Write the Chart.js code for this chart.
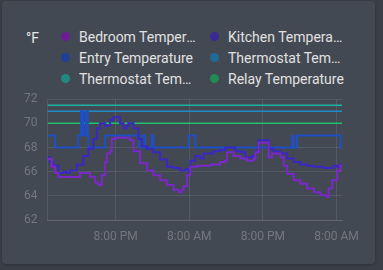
<!DOCTYPE html>
<html>
<head>
<meta charset="utf-8">
<script src="https://cdn.jsdelivr.net/npm/chart.js@4.4.1/dist/chart.umd.min.js"></script>
<style>
    html, body { margin: 0; padding: 0; }
    body {
        width: 383px; height: 270px; overflow: hidden;
        background: #3b4048;
        font-family: Roboto, "Noto Sans", sans-serif;
    }
    .card {
        position: absolute; left: 2px; top: 1px; width: 373px; height: 263px;
        background: #434953; border-radius: 4px;
        box-shadow: 0 1px 3px rgba(0,0,0,0.25);
    }
    .unit {
        position: absolute; left: 26px; top: 30px;
        color: #e8e8e8; font-size: 14px;
    }
    .legend {
        position: absolute; left: 61px; top: 26px; width: 300px;
        display: grid; grid-template-columns: 149px 149px; row-gap: 0;
    }
    .legend-item {
        display: flex; align-items: center; height: 21px;
        color: #e1e1e1; font-size: 14px;
    }
    .legend-item .dot {
        width: 9px; height: 9px; border-radius: 50%; margin-right: 9px; flex: none;
    }
    .legend-item .label {
        max-width: 118px; overflow: hidden; text-overflow: ellipsis; white-space: nowrap;
    }
    #chartWrap { position: absolute; left: 0; top: 82px; }
</style>
</head>
<body>
<div class="card"></div>
<div class="unit">°F</div>
<div class="legend" id="legend"></div>
<div id="chartWrap"><canvas id="historyChart" width="383" height="168"></canvas></div>

<script>
    const seriesNames = ['Bedroom Temperature', 'Kitchen Temperature', 'Entry Temperature',
        'Thermostat Temperature', 'Thermostat Temperature', 'Relay Temperature'];

    // hours since start of the 48h window
    const bedroomHours = [0, 0.69, 1.22, 1.76, 3.67, 5.3, 6.12, 6.94, 7.76, 8.29, 8.57, 8.85, 9.39, 9.67,
        10.2, 10.48, 11.02, 13.19, 13.47, 14.01, 15.1, 16.2, 17.27, 18.37, 19.46, 20.54, 21.36, 21.9,
        22.17, 22.73, 23.27, 24.36, 25.44, 26.53, 28.16, 28.98, 29.26, 30.33, 31.43, 32.52, 33.6,
        33.88, 34.42, 35.79, 36.05, 36.6, 37.96, 38.5, 39.05, 40.13, 41.22, 42.3, 43.4, 44.49, 45.58,
        45.84, 46.4, 47.22, 47.76, 48];
    const bedroomTemps = [67.05, 66.4, 65.9, 65.55, 65.55, 65.9, 65.9, 65.55, 65.1, 64.9, 64.9, 65.7, 66.8, 67.5,
        67.7, 68.7, 68.8, 68.8, 68.6, 67.7, 66.7, 66.1, 65.7, 65.3, 64.9, 64.5, 64.3, 64.5,
        64.8, 65.7, 66.4, 66.5, 66.5, 66.6, 66.8, 66.9, 67.6, 67.3, 67.1, 66.9, 67.05,
        67.6, 68.4, 68.4, 67.2, 67.5, 67.2, 66.5, 65.8, 65.3, 65.0, 64.6, 64.3, 64.05, 63.9,
        64.6, 65.3, 66.1, 66.5, 66.5];

    const kitchenHours = [0, 0.41, 0.95, 1.22, 1.76, 2.58, 3.13, 3.67, 4.77, 5.84, 6.66, 7.48, 8.03, 8.57,
        9.39, 10.2, 10.74, 11.51, 11.84, 12.38, 12.93, 13.19, 13.63, 14.01, 14.82, 15.38, 16.2, 17.27,
        18.37, 19.46, 20.54, 21.63, 22.45, 22.99, 23.27, 24.08, 24.9, 25.44, 26.53, 27.07, 28.16,
        28.98, 29.8, 30.61, 31.43, 32.24, 33.34, 33.88, 34.42, 35.79, 36.05, 36.87, 37.96, 39.05,
        40.13, 41.22, 42.3, 43.4, 45.03, 46.12, 46.66, 47.22, 47.76, 48];
    const kitchenTemps = [67.2, 66.8, 66.4, 66.5, 65.9, 66.0, 65.9, 66.1, 66.6, 67.3, 67.9, 68.7, 69.6, 70.0,
        69.8, 70.3, 70.5, 70.5, 70.0, 69.6, 69.8, 70.0, 70.0, 69.6, 68.7, 68.1, 67.9, 67.6,
        67.0, 66.4, 66.3, 66.1, 66.2, 66.0, 66.9, 67.3, 67.1, 67.5, 67.5, 67.7, 67.8,
        68.0, 68.0, 67.7, 67.6, 67.2, 67.3, 67.7, 68.6, 68.6, 67.9, 67.7, 67.5, 67.1,
        66.8, 66.6, 66.5, 66.4, 66.3, 66.3, 66.5, 66.4, 66.6, 66.6];

    const entryHours = [0, 1.22, 4.98, 5.47, 5.8, 6.24, 6.56, 6.69, 9.39, 14.94, 15.45, 15.9, 17.01,
        17.27, 22.99, 24.08, 39.87, 40.13, 40.69, 47.76, 48];
    const entryTemps = [69, 68, 69, 71, 69, 71, 69, 68, 69, 68, 69, 68, 69,
        68, 69, 68, 69, 68, 69, 68, 68];

    const flatHours = [0, 48];
    const thermostatATemps = [71, 71];
    const thermostatBTemps = [71.5, 71.5];
    const relayTemps = [70, 70];

    const tickHours = [11.1, 23.1, 35.1, 47.1];
    const tickLabels = ['8:00 PM', '8:00 AM', '8:00 PM', '8:00 AM'];
    const yTicks = [62, 64, 66, 68, 70, 72];

    const lineColors = ['#7b27c9', '#3a27c4', '#1f4fc4', '#1f8cc6', '#1fb3a3', '#1fbf6e'];
    const dotColors = ['#6a1e96', '#3a2a96', '#213f96', '#1f6a96', '#22877e', '#228a55'];

    function points(hours, temps) {
        return hours.map((h, i) => ({ x: h, y: temps[i] }));
    }

    function buildLegend() {
        const legend = document.getElementById('legend');
        seriesNames.forEach((name, i) => {
            const item = document.createElement('div');
            item.className = 'legend-item';
            item.innerHTML = '<span class="dot" style="background:' + dotColors[i] + '"></span>' +
                '<span class="label">' + name + '</span>';
            legend.appendChild(item);
        });
    }

    function initChart() {
        const ctx = document.getElementById('historyChart').getContext('2d');
        const series = [
            points(bedroomHours, bedroomTemps),
            points(kitchenHours, kitchenTemps),
            points(entryHours, entryTemps),
            points(flatHours, thermostatATemps),
            points(flatHours, thermostatBTemps),
            points(flatHours, relayTemps)
        ];
        const grid = 'rgba(255,255,255,0.09)';
        const muted = '#72777f';

        new Chart(ctx, {
            type: 'line',
            data: {
                datasets: series.map((data, i) => ({
                    label: seriesNames[i],
                    data: data,
                    borderColor: lineColors[i],
                    backgroundColor: lineColors[i],
                    borderWidth: i < 3 ? 2 : 1.5,
                    pointRadius: 0,
                    stepped: true,
                    fill: false
                }))
            },
            options: {
                responsive: false,
                animation: false,
                layout: { padding: { top: 10, right: 41, left: 0, bottom: 0 } },
                plugins: { legend: { display: false }, tooltip: { enabled: false } },
                scales: {
                    x: {
                        type: 'linear',
                        min: 0, max: 48,
                        afterBuildTicks: (scale) => { scale.ticks = tickHours.map(v => ({ value: v })); },
                        afterFit: (scale) => { scale.height = 30; },
                        grid: { color: grid, drawTicks: false },
                        border: { color: grid },
                        ticks: {
                            color: muted, padding: 10, maxRotation: 0,
                            font: { family: 'Roboto', size: 12 },
                            callback: (v, i) => tickLabels[i]
                        }
                    },
                    y: {
                        min: 62, max: 72,
                        afterBuildTicks: (scale) => { scale.ticks = yTicks.map(v => ({ value: v })); },
                        afterFit: (scale) => { scale.width = 47.5; },
                        grid: { color: grid, drawTicks: false },
                        border: { color: grid },
                        ticks: {
                            color: muted, padding: 10,
                            font: { family: 'Roboto', size: 12 }
                        }
                    }
                }
            }
        });
    }

    buildLegend();
    initChart();
</script>
</body>
</html>
